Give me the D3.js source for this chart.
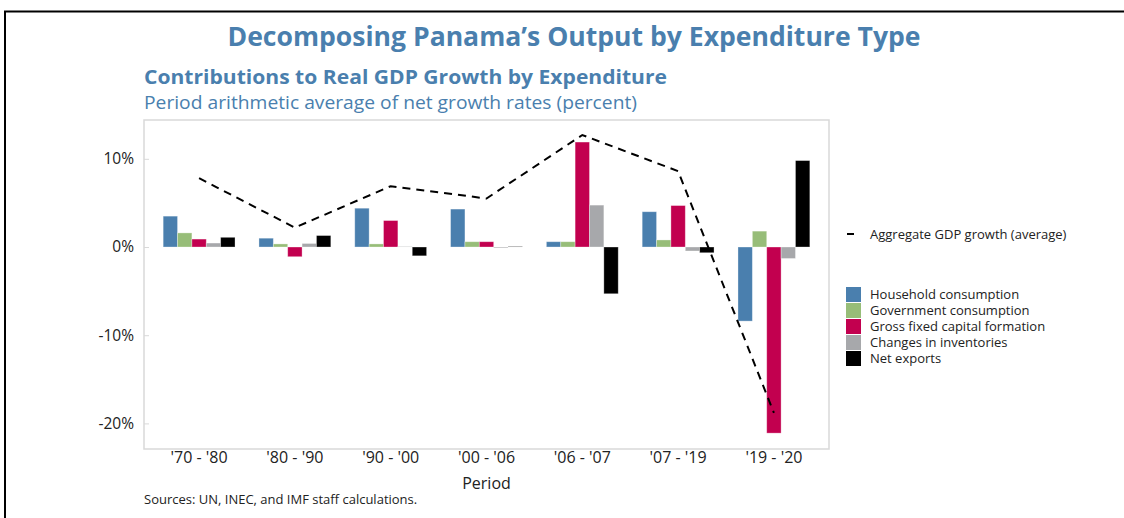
<!DOCTYPE html>
<html>
<head>
<meta charset="utf-8">
<script src="https://cdn.jsdelivr.net/npm/d3@7"></script>
<style>
  body { margin: 0; background: #fff; }
  text { font-family: "Open Sans", "Noto Sans", sans-serif; }
</style>
</head>
<body>
<div id="chart"></div>
<script>
// periods on the x axis
var periods = ["'70 - '80", "'80 - '90", "'90 - '00", "'00 - '06", "'06 - '07", "'07 - '19", "'19 - '20"]
var seriesNames = ["Household consumption", "Government consumption", "Gross fixed capital formation", "Changes in inventories", "Net exports"]
var seriesColors = ["#4a7fae", "#97bd78", "#c2004f", "#a7a8ab", "#000000"]

// contributions (percent), one array per series
var household = [3.5, 1.0, 4.4, 4.3, 0.6, 4.0, -8.4]
var government = [1.6, 0.35, 0.35, 0.6, 0.6, 0.8, 1.8]
var gfcf = [0.9, -1.1, 3.0, 0.6, 11.9, 4.7, -21.1]
var inventories = [0.45, 0.4, 0.05, -0.1, 4.75, -0.45, -1.3]
var netExports = [1.1, 1.3, -1.0, 0.05, -5.3, -0.65, 9.8]
var aggregate = [7.8, 2.2, 6.9, 5.5, 12.7, 8.6, -18.8]

var yTicks = [10, 0, -10, -20]

var W = 1124, H = 518
var plot = { left: 144, right: 829, top: 120, bottom: 449 }

var svg = d3.select('#chart').append('svg')
    .attr('width', W).attr('height', H)

// frame
svg.append('path')
    .attr('d', 'M5,518 L5,11.5 L1124,11.5')
    .attr('fill', 'none').attr('stroke', '#000').attr('stroke-width', 2)

// titles
svg.append('text').attr('x', 574).attr('y', 46)
    .attr('text-anchor', 'middle')
    .attr('font-size', 26).attr('font-weight', 'bold').attr('fill', '#4a7fae')
    .attr('textLength', 693).attr('lengthAdjust', 'spacingAndGlyphs')
    .text('Decomposing Panama\u2019s Output by Expenditure Type')

svg.append('text').attr('x', 144).attr('y', 84)
    .attr('font-size', 20).attr('font-weight', 'bold').attr('fill', '#4a7fae')
    .attr('textLength', 523).attr('lengthAdjust', 'spacingAndGlyphs')
    .text('Contributions to Real GDP Growth by Expenditure')

svg.append('text').attr('x', 144).attr('y', 109)
    .attr('font-size', 18).attr('fill', '#4a7fae')
    .attr('textLength', 493).attr('lengthAdjust', 'spacingAndGlyphs')
    .text('Period arithmetic average of net growth rates (percent)')

var x = d3.scaleBand().domain(periods)
    .range([plot.left, plot.right]).paddingInner(0.25).paddingOuter(0.2)
var y = d3.scaleLinear().domain([-22.9, 14.4]).range([plot.bottom, plot.top])
var xs = d3.scaleBand().domain(d3.range(seriesNames.length))
    .range([0, x.bandwidth()])

// plot box
svg.append('rect')
    .attr('x', plot.left).attr('y', plot.top)
    .attr('width', plot.right - plot.left).attr('height', plot.bottom - plot.top)
    .attr('fill', 'none').attr('stroke', '#d9d9d9').attr('stroke-width', 1.5)

// y axis
var yAxis = svg.append('g').attr('transform', 'translate(' + plot.left + ',0)')
    .call(d3.axisLeft(y).tickValues(yTicks).tickSize(-5).tickPadding(10).tickFormat(function (d) { return d + '%' }))
yAxis.select('.domain').remove()
yAxis.selectAll('line').attr('stroke', '#d9d9d9')
yAxis.selectAll('text').attr('font-size', 15.5).attr('fill', '#222')
    .attr('font-family', '"Open Sans", sans-serif')

// x axis
var xAxis = svg.append('g').attr('transform', 'translate(0,' + plot.bottom + ')')
    .call(d3.axisBottom(x).tickSize(0).tickPadding(3))
xAxis.select('.domain').remove()
xAxis.selectAll('text').attr('font-size', 16).attr('fill', '#222')
    .attr('font-family', '"Open Sans", sans-serif')

svg.append('text').attr('x', (x(periods[0]) + x(periods[6]) + x.bandwidth()) / 2).attr('y', 489)
    .attr('text-anchor', 'middle').attr('font-size', 16).attr('fill', '#222')
    .text('Period')

// bars
var allSeries = [household, government, gfcf, inventories, netExports]
allSeries.forEach(function (vals, si) {
    svg.append('g').selectAll('rect')
        .data(vals)
        .enter()
        .append('rect')
        .attr('x', function (d, i) { return x(periods[i]) + xs(si) })
        .attr('width', xs.bandwidth())
        .attr('y', function (d) { return y(Math.max(0, d)) })
        .attr('height', function (d) { return Math.abs(y(d) - y(0)) })
        .attr('fill', seriesColors[si])
        .attr('stroke', '#fff').attr('stroke-opacity', 0.4).attr('stroke-width', 0.8)
})

// aggregate line
var line = d3.line()
    .x(function (d, i) { return x(periods[i]) + x.bandwidth() / 2 })
    .y(function (d) { return y(d) })
svg.append('path')
    .attr('d', line(aggregate))
    .attr('fill', 'none').attr('stroke', '#000').attr('stroke-width', 2)
    .attr('stroke-dasharray', '8,6')

// legend
var lg = svg.append('g')
lg.append('line').attr('x1', 847).attr('x2', 854).attr('y1', 234).attr('y2', 234)
    .attr('stroke', '#000').attr('stroke-width', 2)
lg.append('text').attr('x', 870).attr('y', 234).attr('dy', '0.35em')
    .attr('font-size', 13).attr('fill', '#222').text('Aggregate GDP growth (average)')

seriesNames.forEach(function (name, i) {
    var yy = 287 + i * 16
    lg.append('rect').attr('x', 846).attr('y', yy).attr('width', 15).attr('height', 15)
        .attr('fill', seriesColors[i])
    lg.append('text').attr('x', 870).attr('y', yy + 7.5).attr('dy', '0.35em')
        .attr('font-size', 13).attr('fill', '#222').text(name)
})

svg.append('text').attr('x', 144).attr('y', 504)
    .attr('font-size', 13).attr('fill', '#222')
    .text('Sources: UN, INEC, and IMF staff calculations.')
</script>
</body>
</html>
